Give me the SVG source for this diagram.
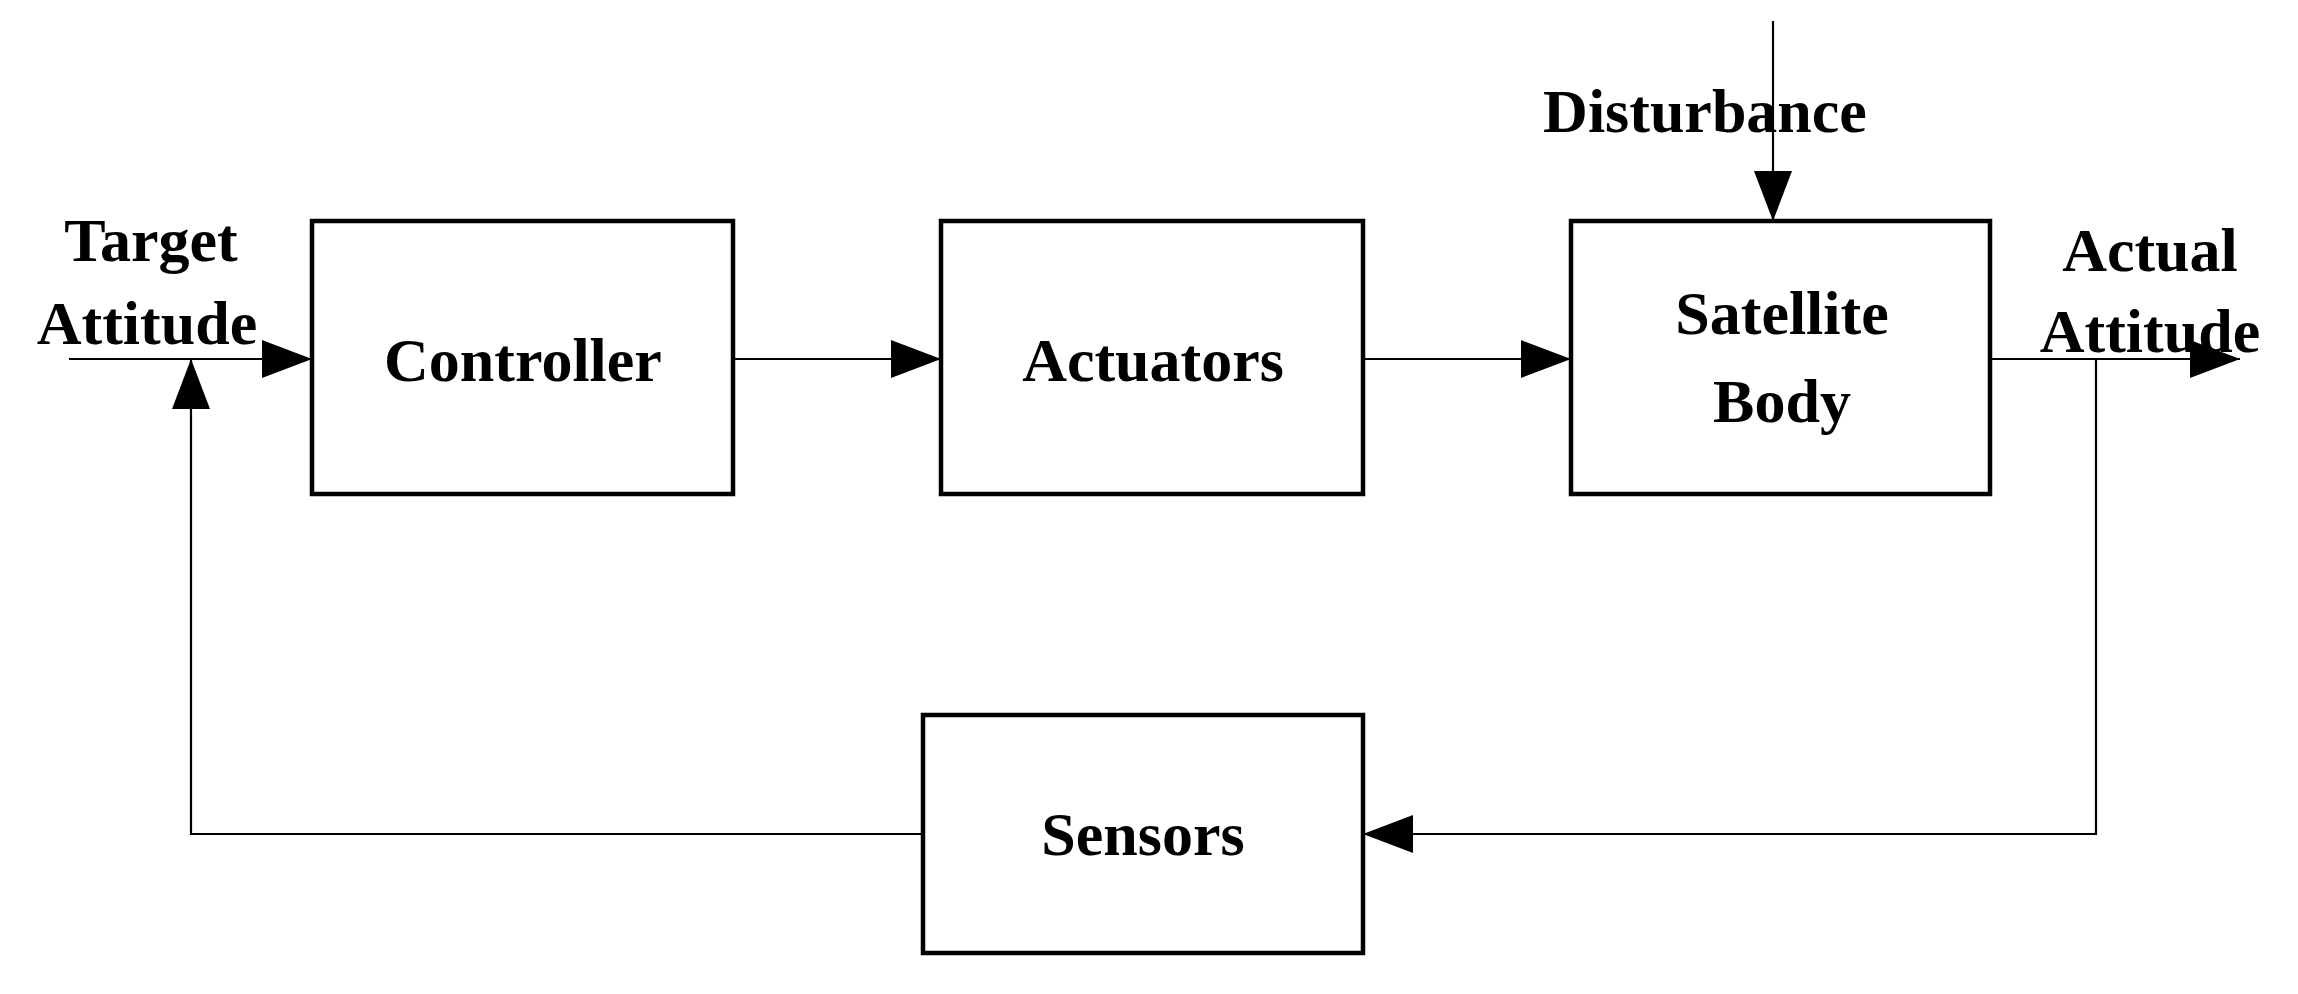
<svg xmlns="http://www.w3.org/2000/svg" width="2298" height="994" viewBox="0 0 2298 994">
<style>
.box{fill:#fff;stroke:#000;stroke-width:4.5}
.ln{fill:none;stroke:#000;stroke-width:2.2}
text{font-family:"Liberation Serif",serif;font-weight:bold;font-size:62px;text-anchor:middle;fill:#000}
</style>
<defs><marker id="a" markerUnits="userSpaceOnUse" markerWidth="52" markerHeight="38" refX="50" refY="19" orient="auto"><path d="M0,0 L50,19 L0,38 Z"/></marker></defs>
<g id="connectors">
<line class="ln" x1="69" y1="359" x2="312" y2="359" marker-end="url(#a)"/>
<line class="ln" x1="733" y1="359" x2="941" y2="359" marker-end="url(#a)"/>
<line class="ln" x1="1363" y1="359" x2="1571" y2="359" marker-end="url(#a)"/>
<line class="ln" x1="1990" y1="359" x2="2240" y2="359" marker-end="url(#a)"/>
<polyline class="ln" points="2096,359 2096,834 1363,834" marker-end="url(#a)"/>
<polyline class="ln" points="923,834 191,834 191,359" marker-end="url(#a)"/>
<line class="ln" x1="1773" y1="21" x2="1773" y2="221" marker-end="url(#a)"/>
</g>
<g id="controller"><rect class="box" x="312" y="221" width="421" height="273"/><text x="523" y="381">Controller</text></g>
<g id="actuators"><rect class="box" x="941" y="221" width="422" height="273"/><text x="1153" y="381">Actuators</text></g>
<g id="satellite"><rect class="box" x="1571" y="221" width="419" height="273"/><text x="1782" y="334">Satellite</text><text x="1782" y="422">Body</text></g>
<g id="sensors"><rect class="box" x="923" y="715" width="440" height="238"/><text x="1143" y="855">Sensors</text></g>
<g id="labels">
<text x="151" y="261">Target</text><text x="147" y="344">Attitude</text>
<text x="2150" y="271">Actual</text><text x="2150" y="352">Attitude</text>
<text x="1705" y="132">Disturbance</text>
</g>
</svg>
